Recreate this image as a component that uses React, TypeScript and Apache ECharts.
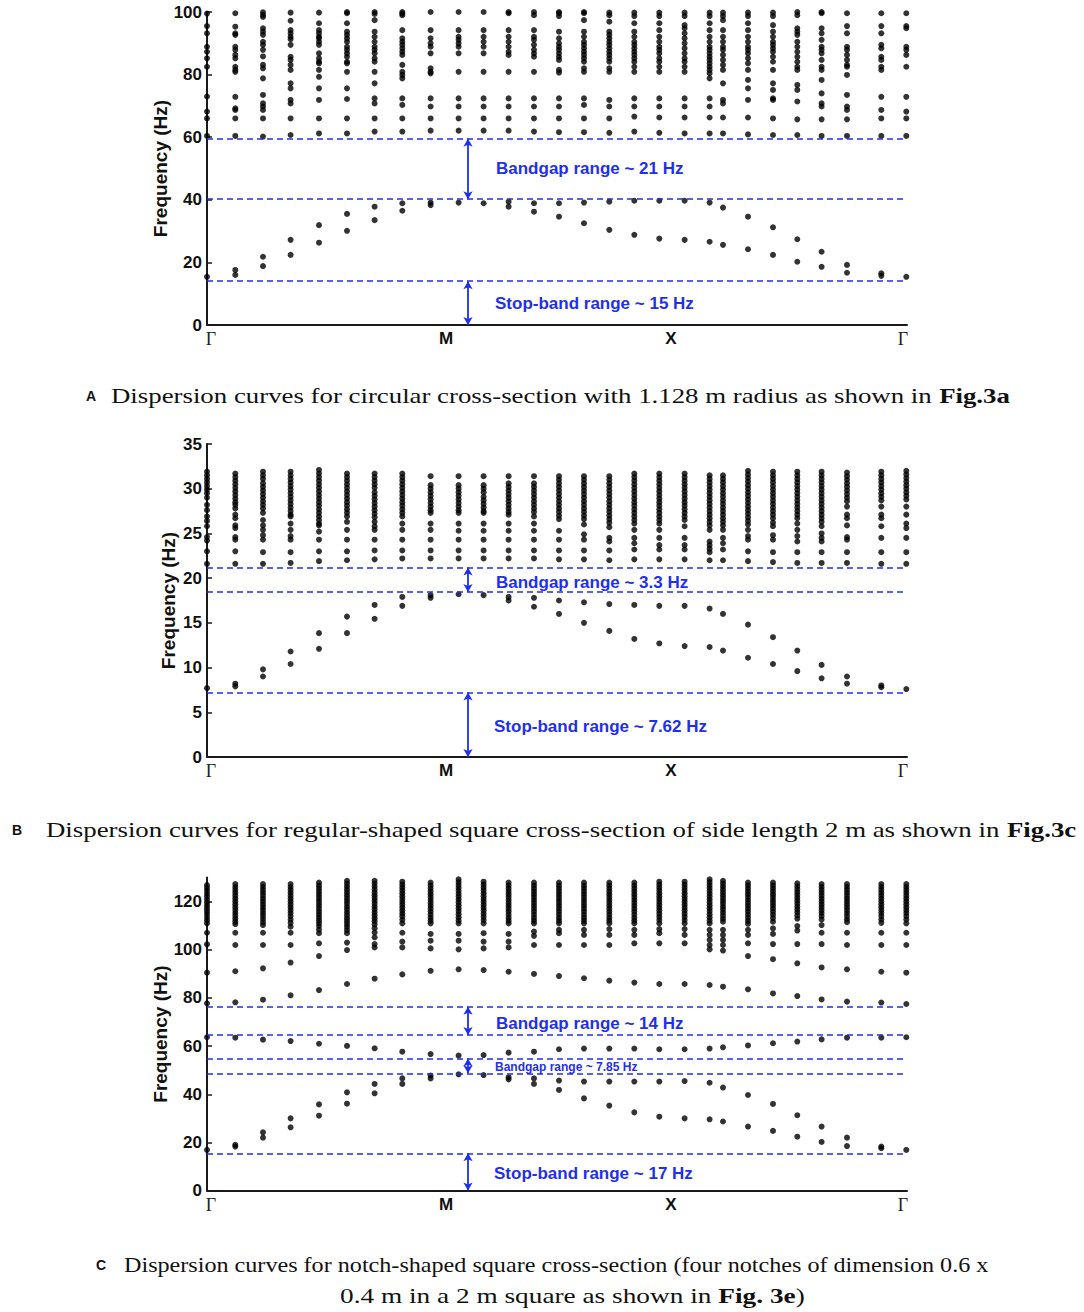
import React, { useEffect, useRef } from "react";
import * as echarts from "echarts";

// k-path positions of the computed wave-vector columns (Γ → M → X → Γ), axis spans 0..700
const kPos = [0, 28.3, 56, 83.6, 112, 140, 167.6, 195.3, 223.6, 251.6, 276.6, 301.6, 327, 352, 377, 402.3, 427.3, 452.3, 477.6, 502.6, 516, 541, 566, 590.3, 614.6, 640, 674.3, 699.3];
const xTickLabels = ["Γ", "M", "X", "Γ"];
const xTickPos = [4, 239, 464, 696];

// Panel A – circular cross-section (Hz)
const freqA: number[][] = [
  [99.5, 95.5, 93.2, 88.9, 87.3, 85.2, 82.5, 73, 68.2, 66, 60.4, 15.4],
  [99.6, 95.3, 93.2, 92.7, 88.9, 87.9, 86.3, 85.2, 82.5, 81.5, 80.9, 72.9, 69.2, 68.7, 66, 60.4, 17.6, 16],
  [99.9, 99.1, 98.4, 94.8, 93.7, 92.7, 90.5, 89.5, 87.9, 85.8, 83.1, 82, 78.8, 73.5, 70.8, 69.8, 68.7, 66, 60.2, 21.8, 18.8],
  [99.8, 97.2, 94.2, 93.2, 92.1, 91.3, 89.5, 85.7, 84.7, 83.1, 81.5, 77.2, 75.6, 71.9, 70.8, 66, 60.7, 27.2, 22.4],
  [99.8, 96.4, 94.2, 93.2, 92.1, 91.6, 90.5, 89.5, 86.8, 85.2, 84.1, 83.6, 81.5, 79.3, 75.6, 71.9, 66, 61.2, 31.9, 26.3],
  [100, 99.6, 96.4, 93.7, 92.7, 91.6, 90.5, 88.9, 87.9, 86.8, 85.7, 84.1, 83.6, 80.9, 75.6, 72.2, 66, 61.2, 35.5, 30.1],
  [100, 99.4, 97.4, 93.7, 92.1, 90.5, 88.9, 87.9, 86.8, 85.2, 84.1, 80.9, 77.2, 72.4, 70.8, 66, 61.8, 37.8, 33.5],
  [100, 99.5, 99, 94.2, 91.6, 90.5, 89.5, 88.4, 87.3, 86.3, 83.1, 80.9, 79.9, 78.8, 72.4, 70.3, 66, 61.8, 38.9, 36.5],
  [100, 94.2, 91.6, 90, 88.9, 86.8, 82, 80.9, 80.4, 72.4, 69.8, 66, 62.1, 39.1, 38.3],
  [100, 94.2, 92.1, 91.1, 90, 88.9, 86.8, 80.9, 72.4, 69.8, 66, 62.1, 39.1],
  [100, 94.2, 92.1, 90.5, 88.9, 86.8, 80.9, 72.4, 69.8, 66, 62.1, 38.9],
  [100, 99.6, 94.2, 92.1, 90.5, 88.9, 87.3, 86.3, 80.9, 72.4, 69.8, 66, 62.1, 39.4, 37.8],
  [100, 99, 94.2, 92.1, 91.1, 89.5, 87.9, 86.8, 85.7, 80.9, 72.4, 69.8, 66, 61.8, 38.9, 36.2],
  [100, 99.6, 98.7, 93.7, 91.6, 90, 88.9, 87.9, 86.8, 85.7, 84.7, 81.5, 80.6, 72.4, 69.8, 66, 61.6, 38.9, 34.6],
  [100, 99.6, 97.4, 93.7, 92.1, 90.5, 89.5, 88.4, 87.3, 86.3, 85.2, 84.1, 82, 80.9, 72.4, 70.3, 66, 61.6, 39.1, 32.5],
  [99.8, 99, 96.9, 93.7, 92.7, 91.6, 90.5, 89.5, 88.4, 87.3, 86.3, 85.2, 84.1, 82, 80.9, 71.9, 69.8, 66, 61.4, 39.4, 30.4],
  [99.8, 98.7, 96.4, 93.7, 92.1, 90.5, 89.5, 88.4, 87.3, 86.3, 85.2, 84.1, 82.5, 80.9, 72.4, 69.8, 66.6, 61.8, 39.7, 28.8],
  [99.8, 98.7, 96.4, 94.2, 92.1, 90.5, 88.9, 87.9, 86.8, 85.2, 84.1, 82.5, 80.9, 72.4, 69.8, 66.3, 61.4, 39.7, 27.6],
  [99.8, 98.7, 95.8, 94.8, 93.2, 91.6, 90, 88.4, 86.8, 85.2, 84.1, 82.5, 80.9, 72.4, 69.8, 66.3, 61.2, 39.7, 27.2],
  [99.8, 98.7, 96.4, 94.2, 92.1, 90.5, 88.9, 87.9, 86.8, 85.7, 84.7, 83.6, 82.5, 81.5, 80.4, 78.8, 72.4, 69.8, 66.3, 61.2, 39.1, 26.6],
  [99.8, 98.7, 97.4, 94.2, 92.1, 90.5, 88.9, 87.9, 86.3, 84.7, 83.1, 81.5, 77.2, 71.9, 70.8, 66.3, 61.2, 37.5, 25.6],
  [99.8, 98.7, 96.4, 94.2, 92.1, 90.5, 88.9, 87.9, 86.8, 85.2, 83.6, 81.5, 78.3, 75.6, 71.9, 66.3, 60.9, 34.6, 24.2],
  [99.8, 98.7, 95.8, 93.7, 92.1, 90.5, 89.5, 88.4, 87.3, 85.7, 84.1, 81.5, 77.2, 75.1, 72.4, 71.9, 66, 60.7, 31.2, 22.4],
  [100, 99, 94.8, 93.7, 92.7, 90.5, 88.9, 87.3, 85.7, 84.1, 82.5, 81.5, 76.7, 75.1, 71.4, 65.7, 60.7, 27.4, 20.2],
  [100, 99.6, 94.8, 93.2, 91.1, 88.9, 87.9, 86.8, 84.7, 82.5, 81.5, 78.3, 74, 70.8, 69.8, 65.7, 60.4, 23.4, 18.6],
  [99.6, 95.5, 93.2, 88.9, 87.9, 86.3, 84.7, 83.1, 82.5, 79.9, 73.5, 69.8, 68.7, 65.7, 60.4, 19.2, 16.7],
  [99.6, 95.5, 93.2, 89.5, 88.4, 85.7, 84.7, 82.5, 81.5, 72.9, 68.7, 66, 60.4, 16.5, 15.7],
  [99.6, 95.5, 94.8, 88.9, 87.9, 86.3, 82.5, 72.9, 68.2, 66, 60.4, 15.4],
];

// Panel B – regular square cross-section (Hz)
const freqB: number[][] = [
  [31.9, 31.5, 31.1, 30.7, 30.3, 29.9, 29.5, 29.0, 28.2, 27.6, 26.9, 26.4, 25.8, 24.6, 24.2, 23.0, 21.6, 7.7],
  [31.7, 31.3, 30.9, 30.5, 30.1, 29.7, 29.3, 28.9, 28.5, 28.2, 27.8, 27.1, 26.7, 25.9, 25.6, 24.6, 24.3, 23.0, 21.6, 8.2, 7.9],
  [31.9, 31.5, 31.1, 30.6, 30.2, 29.8, 29.4, 29.0, 28.6, 28.2, 27.8, 27.3, 26.5, 25.9, 25.4, 24.8, 24.3, 22.9, 21.6, 9.8, 9.0],
  [31.9, 31.5, 31.1, 30.7, 30.3, 29.9, 29.5, 29.1, 28.7, 28.3, 27.9, 27.5, 27.1, 26.9, 26.1, 25.4, 24.7, 24.3, 22.9, 21.7, 11.8, 10.4],
  [32.1, 31.7, 31.3, 30.9, 30.5, 30.1, 29.7, 29.3, 28.9, 28.5, 28.1, 27.7, 27.3, 26.9, 26.5, 26.1, 25.9, 25.2, 24.3, 23.0, 21.9, 13.85, 12.1],
  [31.7, 31.3, 30.9, 30.5, 30.1, 29.7, 29.3, 28.9, 28.5, 28.1, 27.7, 27.3, 26.9, 26.3, 25.4, 24.3, 23.0, 22.0, 15.7, 13.85],
  [31.7, 31.3, 30.9, 30.5, 30.1, 29.6, 29.2, 28.8, 28.4, 28.0, 27.6, 27.2, 26.8, 26.3, 25.8, 25.4, 24.3, 23.1, 22.1, 17.0, 15.45],
  [31.7, 31.3, 30.9, 30.5, 30.1, 29.7, 29.3, 28.9, 28.5, 28.1, 27.7, 27.3, 26.9, 26.1, 25.4, 24.3, 23.1, 22.2, 17.9, 16.9],
  [31.4, 30.4, 30.0, 29.6, 29.2, 28.8, 28.4, 28.0, 27.6, 27.3, 26.1, 25.4, 24.3, 23.1, 22.2, 18.1, 17.8],
  [31.4, 30.4, 30.0, 29.6, 29.2, 28.8, 28.4, 28.0, 27.6, 27.3, 26.1, 25.3, 24.3, 23.1, 22.2, 18.2],
  [31.4, 30.4, 30.0, 29.6, 29.1, 28.7, 28.3, 27.9, 27.5, 27.3, 26.1, 25.3, 24.3, 23.1, 22.2, 18.1],
  [31.4, 30.6, 30.2, 29.8, 29.4, 29.0, 28.6, 28.2, 27.8, 27.4, 27.1, 26.1, 25.3, 24.3, 23.1, 22.2, 17.9, 17.5],
  [31.4, 30.6, 30.2, 29.8, 29.4, 29.0, 28.6, 28.2, 27.8, 27.4, 26.9, 26.1, 25.3, 24.3, 23.1, 22.2, 17.8, 16.8],
  [31.4, 31.0, 30.6, 30.2, 29.8, 29.4, 29.0, 28.6, 28.2, 27.8, 27.4, 27.0, 26.6, 25.3, 24.3, 23.1, 22.1, 17.5, 16.0],
  [31.4, 31.0, 30.6, 30.2, 29.8, 29.4, 29.0, 28.6, 28.2, 27.8, 27.4, 27.0, 26.6, 26.0, 24.9, 24.3, 23.1, 22.1, 17.3, 15.0],
  [31.4, 31.0, 30.6, 30.2, 29.8, 29.4, 29.0, 28.6, 28.2, 27.8, 27.4, 27.0, 26.6, 26.2, 25.7, 24.5, 24.1, 23.1, 22.0, 17.1, 14.1],
  [31.7, 31.3, 30.9, 30.5, 30.1, 29.7, 29.3, 28.9, 28.5, 28.1, 27.7, 27.3, 26.9, 26.5, 26.1, 25.4, 24.5, 23.9, 23.2, 22.1, 17.0, 13.2],
  [31.7, 31.3, 30.9, 30.5, 30.1, 29.7, 29.3, 28.9, 28.5, 28.1, 27.7, 27.3, 26.9, 26.5, 26.1, 25.4, 24.5, 23.7, 23.2, 22.1, 16.9, 12.7],
  [31.7, 31.3, 30.9, 30.5, 30.1, 29.7, 29.3, 28.9, 28.5, 28.1, 27.7, 27.3, 26.9, 26.5, 25.8, 24.5, 23.7, 23.2, 22.1, 16.9, 12.4],
  [31.5, 31.1, 30.7, 30.3, 29.9, 29.5, 29.1, 28.7, 28.3, 27.9, 27.5, 27.1, 26.7, 26.3, 25.9, 25.4, 24.1, 23.7, 23.3, 22.9, 22.0, 16.6, 12.3],
  [31.5, 31.1, 30.7, 30.3, 29.9, 29.5, 29.1, 28.7, 28.3, 27.9, 27.5, 27.1, 26.7, 26.3, 25.9, 25.4, 24.5, 23.9, 23.2, 22.0, 16.0, 11.9],
  [32.0, 31.6, 31.2, 30.8, 30.4, 30.0, 29.6, 29.2, 28.8, 28.4, 28.0, 27.6, 27.2, 26.8, 26.4, 26.0, 25.4, 24.7, 24.3, 23.0, 21.9, 14.8, 11.1],
  [31.9, 31.5, 31.1, 30.7, 30.3, 29.9, 29.5, 29.1, 28.7, 28.3, 27.9, 27.5, 27.1, 26.7, 26.2, 25.8, 24.8, 24.3, 22.9, 21.8, 13.4, 10.4],
  [31.9, 31.5, 31.1, 30.7, 30.3, 29.9, 29.5, 29.1, 28.7, 28.3, 27.9, 27.5, 27.1, 26.7, 26.1, 25.4, 24.7, 24.1, 22.9, 21.7, 11.9, 9.6],
  [31.9, 31.5, 31.1, 30.7, 30.3, 29.9, 29.5, 29.1, 28.7, 28.3, 27.9, 27.5, 27.1, 26.7, 26.3, 25.8, 25.0, 24.5, 24.1, 22.9, 21.7, 10.3, 8.8],
  [31.8, 31.4, 31.0, 30.6, 30.2, 29.8, 29.4, 29.0, 28.6, 28.0, 27.1, 26.7, 25.9, 24.6, 24.3, 22.9, 21.7, 9.0, 8.2],
  [31.9, 31.5, 31.1, 30.7, 30.3, 29.9, 29.5, 29.1, 28.7, 28.0, 27.1, 26.7, 25.8, 24.5, 22.9, 21.6, 8.0, 7.8],
  [32.0, 31.6, 31.2, 30.8, 30.4, 30.0, 29.6, 29.2, 28.8, 28.0, 27.1, 26.1, 25.6, 24.5, 22.9, 21.6, 7.6],
];

// Panel C – notch-shaped square cross-section (Hz)
const freqC: number[][] = [
  [126.9, 125.7, 124.5, 123.3, 122.1, 120.9, 119.7, 118.5, 117.3, 116.1, 114.9, 113.6, 112.3, 111.0, 107.1, 102.3, 90.5, 77.8, 63.7, 16.9],
  [127.3, 126.1, 124.9, 123.7, 122.5, 121.3, 120.1, 118.9, 117.7, 116.5, 115.3, 114.1, 112.9, 111.7, 110.7, 107.1, 102.0, 91.1, 78.2, 63.5, 19.0, 18.3],
  [127.3, 126.1, 124.9, 123.7, 122.5, 121.3, 120.1, 118.9, 117.7, 116.5, 115.3, 114.1, 112.8, 111.5, 110.3, 107.1, 102.0, 92.3, 79.3, 62.7, 24.2, 22.0],
  [127.3, 126.1, 124.9, 123.7, 122.5, 121.3, 120.1, 118.9, 117.7, 116.5, 115.3, 114.0, 112.6, 111.2, 109.6, 107.1, 102.0, 94.7, 81.1, 62.1, 30.0, 26.3],
  [127.9, 126.7, 125.5, 124.3, 123.1, 121.9, 120.7, 119.5, 118.3, 117.1, 115.9, 114.7, 113.5, 112.3, 111.1, 109.9, 108.4, 106.9, 102.7, 97.4, 83.3, 61.0, 35.8, 31.1],
  [128.7, 127.5, 126.3, 125.1, 123.9, 122.7, 121.5, 120.3, 119.1, 117.9, 116.7, 115.5, 114.3, 113.1, 111.9, 110.7, 109.5, 108.2, 106.9, 103.0, 99.9, 85.8, 60.1, 40.8, 36.1],
  [128.7, 127.5, 126.3, 125.1, 123.9, 122.7, 121.5, 120.3, 119.1, 117.9, 116.7, 115.5, 114.3, 113.1, 111.9, 110.6, 109.0, 107.2, 105.2, 102.4, 101.0, 88.0, 59.1, 44.3, 40.4],
  [128.3, 127.1, 125.9, 124.7, 123.5, 122.3, 121.1, 119.9, 118.7, 117.5, 116.3, 115.1, 113.9, 112.5, 111.0, 107.1, 103.4, 101.0, 89.8, 57.7, 46.6, 44.3],
  [127.9, 126.7, 125.5, 124.3, 123.1, 121.9, 120.7, 119.5, 118.3, 117.1, 115.9, 114.6, 113.3, 112.1, 111.0, 106.6, 103.8, 100.6, 91.3, 56.7, 47.8, 46.6],
  [129.3, 128.1, 126.9, 125.7, 124.5, 123.3, 122.1, 120.9, 119.7, 118.5, 117.3, 116.1, 114.8, 113.5, 112.2, 111.0, 106.6, 103.8, 100.2, 91.9, 56.1, 48.3],
  [128.3, 127.1, 125.9, 124.7, 123.5, 122.3, 121.1, 119.9, 118.7, 117.5, 116.3, 115.0, 113.7, 112.4, 111.0, 106.9, 103.4, 100.6, 91.6, 56.3, 48.0],
  [127.9, 126.7, 125.5, 124.3, 123.1, 121.9, 120.7, 119.5, 118.3, 117.1, 115.9, 114.6, 113.3, 112.1, 111.0, 106.6, 103.4, 101.0, 90.9, 57.3, 47.1, 46.2],
  [127.9, 126.7, 125.5, 124.3, 123.1, 121.9, 120.7, 119.5, 118.3, 117.1, 115.9, 114.6, 113.3, 112.1, 111.0, 107.6, 105.8, 102.0, 90.0, 57.7, 46.6, 44.3],
  [127.9, 126.7, 125.5, 124.3, 123.1, 121.9, 120.7, 119.5, 118.3, 117.1, 115.9, 114.6, 113.3, 112.1, 111.0, 108.3, 106.9, 102.0, 89.1, 58.7, 45.7, 41.8],
  [127.9, 126.7, 125.5, 124.3, 123.1, 121.9, 120.7, 119.5, 118.3, 117.1, 115.9, 114.6, 113.3, 112.1, 111.0, 108.3, 106.2, 102.0, 88.2, 59.0, 45.3, 38.3],
  [127.9, 126.7, 125.5, 124.3, 123.1, 121.9, 120.7, 119.5, 118.3, 117.1, 115.9, 114.6, 113.3, 112.1, 111.0, 108.6, 106.2, 102.0, 87.2, 59.0, 45.3, 35.3],
  [127.9, 126.7, 125.5, 124.3, 123.1, 121.9, 120.7, 119.5, 118.3, 117.1, 115.9, 114.6, 113.3, 112.1, 111.0, 108.3, 106.2, 102.7, 86.4, 59.0, 45.3, 32.5],
  [128.3, 127.1, 125.9, 124.7, 123.5, 122.3, 121.1, 119.9, 118.7, 117.5, 116.3, 115.0, 113.7, 112.4, 111.0, 108.6, 106.9, 102.7, 85.8, 58.7, 45.3, 30.7],
  [128.3, 127.1, 125.9, 124.7, 123.5, 122.3, 121.1, 119.9, 118.7, 117.5, 116.3, 115.0, 113.7, 112.4, 111.0, 108.6, 106.2, 102.7, 85.8, 58.7, 45.5, 30.0],
  [129.3, 128.1, 126.9, 125.7, 124.5, 123.3, 122.1, 120.9, 119.7, 118.5, 117.3, 116.1, 114.8, 113.5, 112.2, 111.0, 108.3, 106.2, 104.1, 102.0, 100.2, 85.4, 59.0, 44.8, 29.6],
  [128.7, 127.5, 126.3, 125.1, 123.9, 122.7, 121.5, 120.3, 119.1, 117.9, 116.7, 115.5, 114.2, 112.9, 111.7, 108.3, 106.2, 104.1, 102.0, 99.7, 84.7, 59.5, 42.8, 28.7],
  [127.9, 126.7, 125.5, 124.3, 123.1, 121.9, 120.7, 119.5, 118.3, 117.1, 115.9, 114.6, 113.3, 112.0, 110.8, 108.3, 106.2, 102.7, 97.4, 83.6, 60.3, 39.7, 26.6],
  [127.9, 126.7, 125.5, 124.3, 123.1, 121.9, 120.7, 119.5, 118.3, 117.1, 115.9, 114.6, 113.2, 111.7, 108.9, 106.6, 102.4, 96.1, 81.9, 61.2, 36.0, 24.8],
  [127.6, 126.4, 125.2, 124.0, 122.8, 121.6, 120.4, 119.2, 118.0, 116.8, 115.6, 114.3, 112.9, 109.9, 108.0, 102.4, 94.4, 80.8, 61.9, 31.3, 22.4],
  [127.3, 126.1, 124.9, 123.7, 122.5, 121.3, 120.1, 118.9, 117.7, 116.5, 115.3, 114.0, 112.6, 110.3, 107.1, 102.4, 92.7, 79.4, 62.8, 26.6, 20.2],
  [127.3, 126.1, 124.9, 123.7, 122.5, 121.3, 120.1, 118.9, 117.7, 116.5, 115.3, 114.0, 112.7, 111.5, 107.1, 102.0, 91.9, 78.5, 63.5, 22.0, 18.5],
  [127.3, 126.1, 124.9, 123.7, 122.5, 121.3, 120.1, 118.9, 117.7, 116.5, 115.3, 114.0, 112.6, 111.2, 107.1, 102.0, 90.9, 78.1, 63.5, 18.3, 17.6],
  [127.3, 126.1, 124.9, 123.7, 122.5, 121.3, 120.1, 118.9, 117.7, 116.5, 115.3, 114.0, 112.6, 111.0, 107.1, 102.0, 90.5, 77.5, 63.7, 16.9],
];

// band edges (dashed lines) and range arrows
const bandLinesA = [59.5, 40.2, 14.0];
const bandLinesB = [21.2, 18.45, 7.2];
const bandLinesC = [76.4, 64.6, 54.9, 48.7, 15.5];
const arrowsA = [[59.5, 40.2], [14.0, 0]];
const arrowsB = [[21.2, 18.45], [7.2, 0]];
const arrowsC = [[76.4, 64.6], [54.9, 48.7], [15.5, 0]];
const arrowK = 261;

const yMaxes = [100, 35, 130];
const yIntervals = [20, 5, 20];
const yTicksC = [0, 20, 40, 60, 80, 100, 120];

const BLUE = "#1f2ff0";
const SANS = '"Liberation Sans", Arial, sans-serif';
const SERIF = '"Liberation Serif", "Times New Roman", serif';

export default function App() {
  const ref = useRef<HTMLDivElement>(null);
  useEffect(() => {
    if (!ref.current) return;
    const chart = echarts.init(ref.current, undefined, { renderer: "svg" });
    const panels = [freqA, freqB, freqC];
    const lines = [bandLinesA, bandLinesB, bandLinesC];
    const arrows = [arrowsA, arrowsB, arrowsC];
    const tops = [12, 444, 877.6];
    const nameGaps = [37, 29, 37];

    const grids = tops.map((t) => ({ left: 207, top: t, width: 700, height: 313 }));
    const xAxes = tops.map((_, i) => ({
      type: "value",
      gridIndex: i,
      min: 0,
      max: 700,
      axisLine: { show: true, lineStyle: { color: "#1a1a1a", width: 2 } },
      axisTick: { show: false },
      splitLine: { show: false },
      axisLabel: {
        customValues: xTickPos,
        margin: 5,
        color: "#111",
        fontFamily: SANS,
        fontWeight: "bold",
        fontSize: 17,
        formatter: (v: number) => {
          let idx = 0;
          let best = Infinity;
          xTickPos.forEach((p, j) => {
            if (Math.abs(p - v) < best) { best = Math.abs(p - v); idx = j; }
          });
          const s = xTickLabels[idx];
          return s === "Γ" ? "{g|Γ}" : s;
        },
        rich: { g: { fontFamily: SERIF, fontSize: 18, fontWeight: "normal", color: "#222" } },
      },
    }));
    const yAxes = tops.map((_, i) => {
      const ax: any = {
        type: "value",
        gridIndex: i,
        min: 0,
        max: yMaxes[i],
        interval: yIntervals[i],
        name: "Frequency (Hz)",
        nameLocation: "middle",
        nameGap: nameGaps[i],
        nameMoveOverlap: false,
        nameTextStyle: { fontFamily: SANS, fontWeight: "bold", fontSize: 19, color: "#111" },
        axisLine: { show: true, lineStyle: { color: "#1a1a1a", width: 2 } },
        axisTick: { show: true, inside: true, length: 5, lineStyle: { color: "#1a1a1a", width: 1.5 } },
        splitLine: { show: false },
        axisLabel: { margin: 5, color: "#111", fontFamily: SANS, fontWeight: "bold", fontSize: 17 },
      };
      if (i === 2) {
        ax.axisLabel.customValues = yTicksC;
        ax.axisTick.customValues = yTicksC;
      }
      return ax;
    });

    const series: any[] = [];
    panels.forEach((cols, i) => {
      const pts: number[][] = [];
      cols.forEach((col, c) => col.forEach((f) => pts.push([kPos[c], f])));
      series.push({
        type: "scatter",
        xAxisIndex: i,
        yAxisIndex: i,
        data: pts,
        symbol: "circle",
        symbolSize: 6,
        itemStyle: { color: "#000" },
        clip: false,
        silent: true,
        markLine: {
          silent: true,
          symbol: "none",
          label: { show: false },
          lineStyle: { type: [6, 4], color: BLUE, width: 1.5 },
          data: lines[i].map((y) => ({ yAxis: y })),
        },
        z: 3,
      });
      series.push({
        type: "scatter",
        xAxisIndex: i,
        yAxisIndex: i,
        data: [],
        silent: true,
        markLine: {
          silent: true,
          symbol: ["arrow", "arrow"],
          symbolSize: [7, 8],
          label: { show: false },
          lineStyle: { type: "solid", color: BLUE, width: 1.8 },
          data: arrows[i].map(([a, b]) => [{ coord: [arrowK, a] }, { coord: [arrowK, b] }]),
        },
        z: 4,
      });
    });

    const ann = (text: string, x: number, y: number, size = 17) => ({
      type: "text",
      x,
      y,
      silent: true,
      style: {
        text,
        fill: BLUE,
        font: `bold ${size}px ${SANS}`,
        textAlign: "left",
        textVerticalAlign: "middle",
        verticalAlign: "middle",
      },
    });
    const letter = (x: number, y: number, t: string) => ({
      type: "text",
      x,
      y,
      silent: true,
      style: { text: t, fill: "#111", font: `bold 14px ${SANS}`, textVerticalAlign: "middle", verticalAlign: "middle" },
    });
    const capText = (x: number, y: number, rich: string, size: number, sx: number) => ({
      type: "text",
      x,
      y,
      scaleX: sx,
      silent: true,
      style: {
        text: rich,
        fill: "#111",
        textVerticalAlign: "middle",
        verticalAlign: "middle",
        rich: {
          n: { fontFamily: SERIF, fontSize: size, color: "#111", fill: "#111" },
          b: { fontFamily: SERIF, fontSize: size, fontWeight: "bold", color: "#111", fill: "#111" },
        },
      },
    });

    const graphic: any[] = [
      ann("Bandgap range ~ 21 Hz", 496, 168),
      ann("Stop-band range ~ 15 Hz", 495, 303),
      ann("Bandgap range ~ 3.3 Hz", 496, 582),
      ann("Stop-band range ~ 7.62 Hz", 494, 726),
      ann("Bandgap range ~ 14 Hz", 496, 1023),
      ann("Bandgap range ~ 7.85 Hz", 495, 1067, 12),
      ann("Stop-band range ~ 17 Hz", 494, 1173),
      letter(86, 396, "A"),
      capText(111, 395, "{n|Dispersion curves for circular cross-section with 1.128 m radius as shown in }{b|Fig.3a}", 22, 1.22),
      letter(12, 830, "B"),
      capText(46, 829, "{n|Dispersion curves for regular-shaped square cross-section of side length 2 m as shown in }{b|Fig.3c}", 22, 1.22),
      letter(96, 1265, "C"),
      capText(124, 1265, "{n|Dispersion curves for notch-shaped square cross-section (four notches of dimension 0.6 x}", 21, 1.15),
      capText(340, 1296, "{n|0.4 m in a 2 m square as shown in }{b|Fig. 3e}{n|)}", 21, 1.3),
    ];

    chart.setOption({
      animation: false,
      backgroundColor: "#fff",
      grid: grids,
      xAxis: xAxes,
      yAxis: yAxes,
      series,
      graphic,
    });
    return () => chart.dispose();
  }, []);
  return <div ref={ref} style={{ position: "absolute", left: 0, top: 0, width: 1084, height: 1312 }} />;
}
